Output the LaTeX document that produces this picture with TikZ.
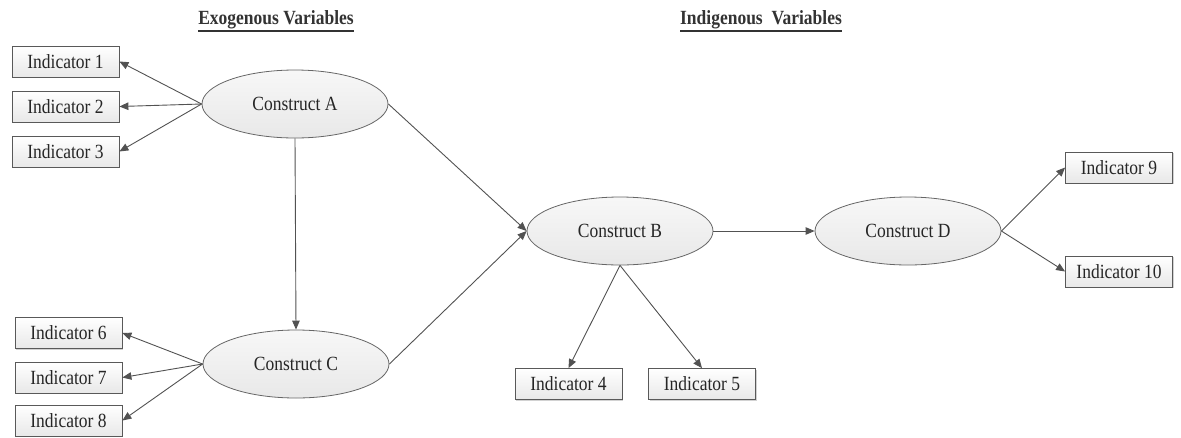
\documentclass[tikz,border=0pt]{standalone}
\usepackage{fontspec}
\setmainfont{Liberation Serif}
\usetikzlibrary{shapes.geometric,arrows.meta,shadows}

% Times-like text, slightly tall
\newcommand\tallfont[1]{\scalebox{1}[1.15]{#1}}
% heavy underline for the headings
\newcommand\headrule[1]{\vtop{\hbox{#1}\kern1.2pt\hrule height 1.5pt}}

\tikzset{
  indbox/.style={draw=black!65, line width=0.8pt, rectangle,
    minimum width=107pt, minimum height=31pt, inner sep=0pt,
    top color=white, bottom color=black!9,
    drop shadow={shadow xshift=1.2pt, shadow yshift=-1.2pt, fill=black!35},
    text=black!85, font=\fontsize{17.5}{20}\selectfont},
  construct/.style={draw=black!60, line width=0.8pt, ellipse,
    minimum width=186pt, minimum height=68pt, inner sep=0pt,
    top color=black!3, bottom color=black!9,
    text=black!85, font=\fontsize{17.5}{20}\selectfont},
  heading/.style={font=\fontsize{17.5}{20}\selectfont\bfseries,
    text=black!80, inner sep=0pt},
  link/.style={draw=black!68, line width=0.9pt,
    -{Triangle[length=9pt,width=7.5pt]}},
}

\begin{document}
\begin{tikzpicture}[x=1pt,y=-1pt]
  \useasboundingbox (0,0) rectangle (1181,437);

  % headings
  \node[heading] (hexo) at (276,21) {\tallfont{\headrule{Exogenous Variables}}};
  \node[heading] (hind) at (761,21) {\tallfont{\headrule{Indigenous\ \ Variables}}};

  % constructs
  \node[construct] (A) at (295,104) {\tallfont{Construct A}};
  \node[construct] (C) at (296,364) {\tallfont{Construct C}};
  \node[construct] (B) at (620,231) {\tallfont{Construct B}};
  \node[construct] (D) at (908,231) {\tallfont{Construct D}};

  % indicators
  \node[indbox] (i1) at (65.5,61.5) {\tallfont{Indicator 1}};
  \node[indbox] (i2) at (65.5,106.5) {\tallfont{Indicator 2}};
  \node[indbox] (i3) at (65.5,151.5) {\tallfont{Indicator 3}};
  \node[indbox] (i6) at (68.5,333) {\tallfont{Indicator 6}};
  \node[indbox] (i7) at (68.5,377.5) {\tallfont{Indicator 7}};
  \node[indbox] (i8) at (68.5,420.5) {\tallfont{Indicator 8}};
  \node[indbox] (i4) at (568.5,384) {\tallfont{Indicator 4}};
  \node[indbox] (i5) at (702,384) {\tallfont{Indicator 5}};
  \node[indbox] (i9) at (1119,167.5) {\tallfont{Indicator 9}};
  \node[indbox] (i10) at (1119,271.5) {\tallfont{Indicator 10}};

  % reflective indicators of A and C
  \draw[link] (A.west) -- (i1.east);
  \draw[link] (A.west) -- (i2.east);
  \draw[link] (A.west) -- (i3.east);
  \draw[link] (C.west) -- (i6.east);
  \draw[link] (C.west) -- (i7.east);
  \draw[link] (C.west) -- (i8.east);

  % structural paths
  \draw[link] (A.south) -- (C.north);
  \draw[link] (A.east) -- (B.west);
  \draw[link] (C.east) -- (B.west);
  \draw[link] (B.east) -- (D.west);

  % indicators of B and D
  \draw[link] (B.south) -- (i4.north);
  \draw[link] (B.south) -- (i5.north);
  \draw[link] (D.east) -- (i9.west);
  \draw[link] (D.east) -- (i10.west);
\end{tikzpicture}
\end{document}
